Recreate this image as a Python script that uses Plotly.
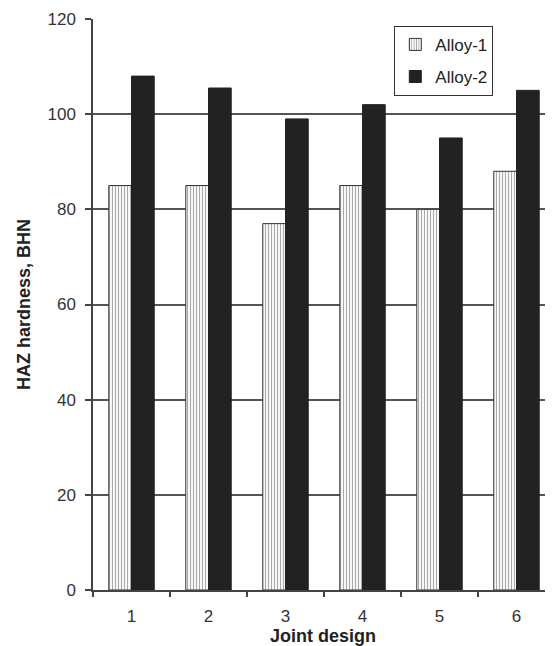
import plotly.graph_objects as go

categories = ["1", "2", "3", "4", "5", "6"]
alloy1 = [85, 85, 77, 85, 80, 88]
alloy2 = [108, 105.5, 99, 102, 95, 105]
y_ticks = [0, 20, 40, 60, 80, 100, 120]

FONT = "Liberation Sans, Arial, sans-serif"
AX = "#444444"

fig = go.Figure()
fig.add_trace(go.Bar(
    x=categories, y=alloy1, name="Alloy-1", legendgroup="a1",
    marker=dict(color="white",
                pattern=dict(shape="|", fgcolor="#555555", bgcolor="white",
                             size=3, solidity=0.4, fillmode="overlay"),
                line=dict(color="#333333", width=1)),
))
fig.add_trace(go.Bar(
    x=categories, y=alloy2, name="Alloy-2", legendgroup="a2",
    marker=dict(color="#222222", line=dict(color="#222222", width=1)),
))

# page body has an 8px default margin, so the figure is sized/offset to compensate
fig.update_layout(
    width=545, height=638,
    margin=dict(l=85, r=0, t=11, b=56),
    paper_bgcolor="white", plot_bgcolor="white",
    barmode="group", bargap=0.41, bargroupgap=0,
    font=dict(family=FONT, size=17, color="#333333"),
    showlegend=True,
    legend=dict(x=0.655, y=0.988, xanchor="left", yanchor="top",
                bgcolor="white", bordercolor="#333333", borderwidth=1,
                font=dict(size=17, color="#222222"),
                traceorder="grouped", tracegroupgap=7,
                itemwidth=30),
    xaxis=dict(
        type="category", range=[-0.5, 5.474],
        tickson="boundaries", ticks="outside", ticklen=5, tickcolor=AX,
        tickwidth=1.5, showline=True, linecolor=AX, linewidth=1.5,
        showgrid=False, ticklabelstandoff=10,
        tickfont=dict(size=17, color="#333333"),
        title=dict(text="<b>Joint design</b>", standoff=6,
                   font=dict(size=18, color="#222222")),
    ),
    yaxis=dict(
        range=[0, 120], tickvals=y_ticks, ticks="outside", ticklen=6,
        tickcolor=AX, tickwidth=1.5, showline=True, linecolor=AX,
        linewidth=1.5, showgrid=True, gridcolor="#555555", gridwidth=1.5,
        zeroline=False, ticklabelstandoff=6,
        tickfont=dict(size=17, color="#333333"),
        title=dict(text="<b>HAZ hardness, BHN</b>", standoff=12,
                   font=dict(size=18, color="#222222")),
    ),
)

fig.write_html("out.html")
